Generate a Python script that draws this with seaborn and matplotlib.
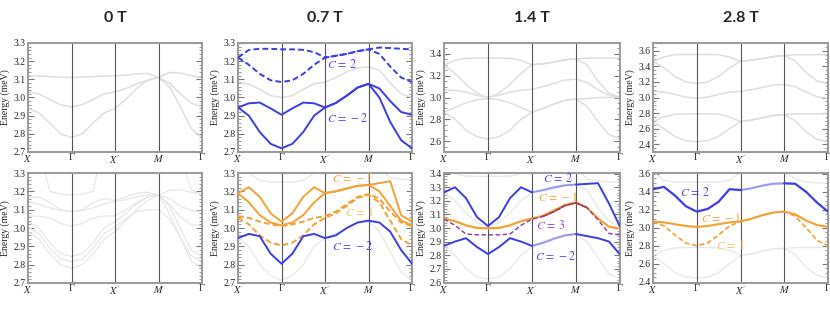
import numpy as np
import pandas as pd
import seaborn as sns
import matplotlib.pyplot as plt

sns.set_theme(style="white")
plt.rcParams["font.family"] = ["Liberation Serif", "DejaVu Serif"]
plt.rcParams["mathtext.fontset"] = "stix"

# k-path coordinate (X - Gamma - X' - M - Gamma), 4 samples per segment
K = [0, 0.25, 0.5, 0.75, 1, 1.25, 1.5, 1.75, 2, 2.25, 2.5, 2.75, 3, 3.25, 3.5, 3.75, 4]
KTICKS = [0, 1, 2, 3, 4]
KLABELS = ["$X$", "Γ", "$X'$", "$M$", "Γ"]
FIELDS = ["0 T", "0.7 T", "1.4 T", "2.8 T"]

# ---- 0 T, top
A1 = [3.12, 3.118, 3.115, 3.112, 3.11, 3.112, 3.115, 3.118, 3.12, 3.123, 3.13, 3.133, 3.11, 3.138, 3.135, 3.12, 3.11]
A2 = [3.03, 3.02, 2.99, 2.96, 2.948, 2.96, 2.99, 3.02, 3.03, 3.05, 3.075, 3.095, 3.11, 3.08, 3.02, 2.97, 2.948]
A3 = [2.94, 2.915, 2.86, 2.80, 2.78, 2.80, 2.86, 2.915, 2.94, 2.99, 3.05, 3.095, 3.11, 3.06, 2.95, 2.83, 2.78]

# ---- 0.7 T, top
B_g = [3.085, 3.075, 3.045, 3.01, 3.0, 3.01, 3.045, 3.075, 3.085, 3.11, 3.14, 3.162, 3.168, 3.15, 3.08, 3.02, 3.0]
B_d1 = [3.22, 3.262, 3.268, 3.268, 3.265, 3.265, 3.262, 3.25, 3.22, 3.23, 3.24, 3.255, 3.265, 3.275, 3.272, 3.268, 3.265]
B_d2 = [3.22, 3.18, 3.13, 3.095, 3.085, 3.095, 3.13, 3.18, 3.22, 3.23, 3.24, 3.255, 3.265, 3.24, 3.17, 3.11, 3.085]
B_s1 = [2.945, 2.968, 2.972, 2.94, 2.905, 2.94, 2.972, 2.968, 2.945, 2.97, 3.01, 3.055, 3.075, 3.05, 2.98, 2.92, 2.905]
B_s2 = [2.945, 2.90, 2.81, 2.745, 2.72, 2.745, 2.81, 2.90, 2.945, 2.97, 3.01, 3.055, 3.075, 3.0, 2.865, 2.765, 2.72]

# ---- 1.4 T, top
C1 = [3.30, 3.34, 3.36, 3.362, 3.362, 3.362, 3.36, 3.34, 3.30, 3.31, 3.325, 3.345, 3.355, 3.36, 3.362, 3.362, 3.362]
C2 = [3.30, 3.22, 3.12, 3.04, 3.0, 3.04, 3.12, 3.22, 3.30, 3.31, 3.325, 3.345, 3.355, 3.30, 3.15, 3.04, 3.0]
C3 = [3.07, 3.065, 3.05, 3.02, 3.0, 3.02, 3.05, 3.065, 3.075, 3.10, 3.13, 3.16, 3.168, 3.14, 3.07, 3.02, 3.0]
C4 = [2.865, 2.91, 2.95, 2.98, 2.99, 2.98, 2.95, 2.91, 2.865, 2.90, 2.94, 2.975, 2.985, 2.99, 3.0, 3.0, 3.0]
C5 = [2.865, 2.80, 2.70, 2.64, 2.62, 2.64, 2.70, 2.80, 2.865, 2.90, 2.94, 2.975, 2.985, 2.92, 2.78, 2.66, 2.62]

# ---- 2.8 T, top
D1 = [3.465, 3.52, 3.55, 3.552, 3.552, 3.552, 3.55, 3.52, 3.465, 3.48, 3.50, 3.525, 3.54, 3.548, 3.55, 3.55, 3.55]
D2 = [3.465, 3.38, 3.27, 3.20, 3.18, 3.20, 3.27, 3.38, 3.465, 3.48, 3.50, 3.525, 3.54, 3.47, 3.32, 3.21, 3.18]
D3 = [3.08, 3.07, 3.04, 3.005, 2.99, 3.005, 3.04, 3.07, 3.08, 3.10, 3.13, 3.16, 3.168, 3.14, 3.07, 3.01, 2.99]
D4 = [2.69, 2.75, 2.785, 2.79, 2.79, 2.79, 2.785, 2.75, 2.69, 2.71, 2.74, 2.77, 2.78, 2.79, 2.79, 2.79, 2.79]
D5 = [2.69, 2.60, 2.50, 2.445, 2.43, 2.445, 2.50, 2.60, 2.69, 2.71, 2.74, 2.77, 2.78, 2.70, 2.56, 2.46, 2.43]

# ---- 0 T, bottom
E1 = [3.6, 3.45, 3.20, 3.185, 3.18, 3.185, 3.20, 3.50, 3.6, 3.6, 3.6, 3.6, 3.6, 3.6, 3.38, 3.21, 3.18]
E2 = [3.165, 3.168, 3.14, 3.10, 3.09, 3.10, 3.14, 3.16, 3.15, 3.17, 3.19, 3.195, 3.18, 3.205, 3.21, 3.195, 3.185]
E3 = [3.145, 3.13, 3.11, 3.095, 3.09, 3.095, 3.11, 3.13, 3.145, 3.155, 3.17, 3.18, 3.18, 3.16, 3.12, 3.095, 3.09]
E4 = [3.065, 3.065, 3.055, 3.025, 3.01, 3.025, 3.055, 3.065, 3.065, 3.10, 3.14, 3.17, 3.18, 3.13, 3.06, 3.02, 3.01]
E5 = [3.035, 3.0, 2.92, 2.86, 2.845, 2.86, 2.92, 3.0, 3.035, 3.08, 3.13, 3.17, 3.18, 3.12, 3.0, 2.88, 2.845]
E6 = [3.005, 2.97, 2.89, 2.83, 2.818, 2.83, 2.89, 2.97, 3.005, 3.05, 3.09, 3.10, 3.10, 3.05, 2.95, 2.85, 2.818]
E7 = [2.98, 2.94, 2.86, 2.80, 2.78, 2.80, 2.86, 2.94, 2.98, 3.04, 3.10, 3.15, 3.18, 3.08, 2.95, 2.82, 2.78]

# ---- 0.7 T, bottom
F_g1 = [2.945, 2.90, 2.80, 2.74, 2.715, 2.74, 2.80, 2.90, 2.945, 2.97, 3.0, 3.03, 3.04, 2.98, 2.87, 2.76, 2.715]
F_g2 = [3.35, 3.30, 3.26, 3.25, 3.25, 3.25, 3.26, 3.30, 3.35, 3.35, 3.35, 3.35, 3.35, 3.32, 3.275, 3.265, 3.265]
F_o1 = [3.19, 3.222, 3.17, 3.08, 3.035, 3.08, 3.17, 3.222, 3.19, 3.20, 3.215, 3.23, 3.235, 3.245, 3.255, 3.07, 3.035]
F_o2 = [3.19, 3.14, 3.07, 3.03, 3.015, 3.03, 3.07, 3.14, 3.19, 3.20, 3.215, 3.23, 3.235, 3.20, 3.12, 3.04, 3.015]
F_d1 = [3.065, 3.055, 3.035, 3.02, 3.01, 3.02, 3.035, 3.055, 3.065, 3.09, 3.13, 3.17, 3.185, 3.16, 3.09, 3.03, 3.01]
F_d2 = [3.055, 3.02, 2.96, 2.92, 2.905, 2.92, 2.96, 3.02, 3.055, 3.08, 3.12, 3.165, 3.18, 3.14, 3.04, 2.94, 2.905]
F_b = [2.945, 2.968, 2.955, 2.86, 2.805, 2.86, 2.955, 2.968, 2.945, 2.96, 3.0, 3.03, 3.04, 3.03, 2.98, 2.88, 2.805]

# ---- 1.4 T, bottom
G_g1 = [2.865, 2.80, 2.70, 2.64, 2.625, 2.64, 2.70, 2.80, 2.865, 2.90, 2.93, 2.95, 2.955, 2.90, 2.78, 2.66, 2.625]
G_g2 = [3.265, 3.20, 3.11, 3.04, 3.01, 3.04, 3.11, 3.20, 3.265, 3.27, 3.29, 3.31, 3.32, 3.28, 3.15, 3.05, 3.01]
G_g3 = [3.45, 3.40, 3.38, 3.38, 3.38, 3.38, 3.38, 3.40, 3.45, 3.45, 3.45, 3.45, 3.45, 3.36, 3.345, 3.34, 3.34]
G_b1 = [3.262, 3.30, 3.22, 3.08, 3.015, 3.08, 3.22, 3.30, 3.262, 3.28, 3.30, 3.315, 3.32, 3.325, 3.33, 3.18, 3.01]
G_b2 = [2.868, 2.90, 2.925, 2.86, 2.808, 2.86, 2.925, 2.90, 2.868, 2.89, 2.92, 2.945, 2.956, 2.94, 2.925, 2.90, 2.805]
G_o = [3.07, 3.05, 3.02, 3.0, 2.998, 3.0, 3.02, 3.05, 3.07, 3.09, 3.13, 3.17, 3.188, 3.15, 3.07, 3.01, 2.995]
G_p = [3.065, 3.02, 2.955, 2.95, 2.95, 2.95, 2.955, 3.02, 3.065, 3.085, 3.12, 3.165, 3.185, 3.15, 3.06, 2.96, 2.95]

# ---- 2.8 T, bottom
H_g1 = [2.69, 2.75, 2.775, 2.78, 2.78, 2.78, 2.775, 2.75, 2.69, 2.71, 2.74, 2.765, 2.77, 2.78, 2.78, 2.78, 2.78]
H_g2 = [2.69, 2.60, 2.50, 2.45, 2.44, 2.45, 2.50, 2.60, 2.69, 2.71, 2.74, 2.765, 2.77, 2.70, 2.56, 2.47, 2.44]
H_g3 = [3.62, 3.53, 3.51, 3.51, 3.51, 3.51, 3.51, 3.53, 3.62, 3.62, 3.62, 3.62, 3.62, 3.55, 3.51, 3.50, 3.50]
H_b = [3.43, 3.455, 3.36, 3.24, 3.18, 3.21, 3.29, 3.43, 3.42, 3.44, 3.47, 3.49, 3.495, 3.49, 3.40, 3.28, 3.18]
H_o1 = [3.07, 3.06, 3.04, 3.02, 3.01, 3.02, 3.04, 3.06, 3.07, 3.10, 3.14, 3.17, 3.18, 3.15, 3.08, 3.03, 3.01]
H_o2 = [3.07, 3.02, 2.92, 2.83, 2.80, 2.83, 2.92, 3.02, 3.07, 3.10, 3.14, 3.17, 3.18, 3.13, 3.0, 2.86, 2.80]

GRAY = "#dedede"
GRAY2 = "#e8e8e8"
BLUE = "#3c3ce8"
ORANGE = "#f5a033"
PURPLE = "#8e4aa6"
DARKRED = "#a8303a"
BLUE_T = "#5a3fe6"
ORANGE_T = "#f2a534"
ORANGE_T2 = "#f4c25e"
PURPLE_T = "#9044cf"
DASH = (0, (3, 1.6))


def band(ax, vals, color, ls="-", lw=1.4, alpha=1.0, lo=0, hi=17, z=3):
    sns.lineplot(x=K[lo:hi], y=vals[lo:hi], ax=ax, color=color, linestyle=ls,
                 linewidth=lw, alpha=alpha, zorder=z, estimator=None, sort=False)


def style(ax, ylim, yticks, minor):
    ax.set_xlim(0, 4)
    ax.set_ylim(*ylim)
    ax.set_xticks(KTICKS)
    ax.set_xticklabels(KLABELS, fontsize=7.5)
    ax.set_yticks(yticks)
    ax.set_yticklabels([f"{t:.1f}" for t in yticks], fontsize=7)
    ax.set_yticks(minor, minor=True)
    ax.tick_params(axis="x", length=0, pad=1)
    ax.tick_params(axis="y", which="major", direction="in", length=4, width=0.8,
                   color="#777777", left=True, right=True, pad=1.5)
    ax.tick_params(axis="y", which="minor", direction="in", length=2, width=0.6,
                   color="#888888", left=True, right=True)
    for s in ax.spines.values():
        s.set_color("#9a9a9a")
        s.set_linewidth(1.4)
    for xv in [1, 2, 3]:
        ax.axvline(xv, color="#555555", lw=0.8, zorder=2)
    ax.set_xlabel("")
    ax.set_ylabel("Energy (meV)", fontsize=7, labelpad=1)
    ax.yaxis.set_label_coords(-0.105, 0.5)


def lab(ax, k, e, txt, color):
    ax.text(k, e, txt, color=color, fontsize=8.5, va="center", ha="left", zorder=6)


fig = plt.figure(figsize=(8.3, 3.2), dpi=100)
lefts = [28, 238, 444, 653]
widths = [174, 174, 176, 175]
axes_top = []
axes_bot = []
for l, w in zip(lefts, widths):
    axes_top.append(fig.add_axes([l / 830, 1 - 152 / 320, w / 830, 109 / 320]))
    axes_bot.append(fig.add_axes([l / 830, 1 - 283 / 320, w / 830, 110 / 320]))

t01 = np.round(np.arange(2.7, 3.31, 0.1), 2)
m01 = np.round(np.arange(2.7, 3.31, 0.02), 3)

# 0 T top
ax = axes_top[0]
for b in [A1, A2, A3]:
    band(ax, b, GRAY, lw=1.1, z=1)
style(ax, (2.7, 3.3), t01, m01)

# 0.7 T top
ax = axes_top[1]
band(ax, B_g, GRAY, lw=1.1, z=1)
band(ax, B_d1, BLUE, ls=DASH)
band(ax, B_d2, BLUE, ls=DASH)
band(ax, B_s1, BLUE)
band(ax, B_s2, BLUE)
style(ax, (2.7, 3.3), t01, m01)
lab(ax, 2.05, 3.18, "$C\\,=\\,2$", BLUE_T)
lab(ax, 2.05, 2.887, "$C\\,=\\,-2$", BLUE_T)

# 1.4 T top
ax = axes_top[2]
for b in [C1, C2, C3, C4, C5]:
    band(ax, b, GRAY, lw=1.1, z=1)
style(ax, (2.5, 3.5), np.round(np.arange(2.6, 3.41, 0.2), 2), np.round(np.arange(2.5, 3.51, 0.05), 3))

# 2.8 T top
ax = axes_top[3]
for b in [D1, D2, D3, D4, D5]:
    band(ax, b, GRAY, lw=1.1, z=1)
style(ax, (2.3, 3.7), np.round(np.arange(2.4, 3.61, 0.2), 2), np.round(np.arange(2.3, 3.71, 0.05), 3))

# 0 T bottom
ax = axes_bot[0]
for b in [E1, E2, E3, E4, E5, E6, E7]:
    band(ax, b, GRAY2, lw=1.0, z=1)
style(ax, (2.7, 3.3), t01, m01)

# 0.7 T bottom
ax = axes_bot[1]
band(ax, F_g1, GRAY2, lw=1.0, z=1)
band(ax, F_g2, GRAY2, lw=1.0, z=1)
band(ax, F_d1, ORANGE, ls=DASH)
band(ax, F_d2, ORANGE, ls=DASH)
band(ax, F_o2, ORANGE)
band(ax, F_o1, ORANGE)
band(ax, F_b, BLUE)
style(ax, (2.7, 3.3), t01, m01)
lab(ax, 2.16, 3.272, "$C\\,=\\,-1$", ORANGE_T)
lab(ax, 2.46, 3.087, "$C\\,=\\,1$", ORANGE_T2)
lab(ax, 2.16, 2.90, "$C\\,=\\,-2$", BLUE_T)

# 1.4 T bottom
ax = axes_bot[2]
for b in [G_g1, G_g2, G_g3]:
    band(ax, b, GRAY2, lw=1.0, z=1)
band(ax, G_o, ORANGE, lw=1.6)
band(ax, G_p, PURPLE, ls=DASH, lw=1.1)
band(ax, G_p, DARKRED, ls=DASH, lw=1.1, lo=9, hi=14)
for b in [G_b1, G_b2]:
    band(ax, b, BLUE, hi=9)
    band(ax, b, BLUE, alpha=0.5, lo=8, hi=13)
    band(ax, b, BLUE, lo=12)
style(ax, (2.595, 3.405), np.round(np.arange(2.6, 3.41, 0.1), 2), np.round(np.arange(2.6, 3.41, 0.02), 3))
lab(ax, 2.24, 3.364, "$C\\,=\\,2$", BLUE_T)
lab(ax, 2.13, 3.225, "$C\\,=\\,-1$", ORANGE_T)
lab(ax, 2.08, 3.015, "$C\\,=\\,3$", PURPLE_T)
lab(ax, 2.06, 2.79, "$C\\,=\\,-2$", BLUE_T)

# 2.8 T bottom
ax = axes_bot[3]
for b in [H_g1, H_g2, H_g3]:
    band(ax, b, GRAY2, lw=1.0, z=1)
band(ax, H_o2, ORANGE, ls=DASH, lw=1.2)
band(ax, H_o1, ORANGE, lw=1.5)
band(ax, H_b, BLUE, lw=1.6, hi=9)
band(ax, H_b, BLUE, lw=1.6, alpha=0.5, lo=8, hi=13)
band(ax, H_b, BLUE, lw=1.6, lo=12)
style(ax, (2.385, 3.61), np.round(np.arange(2.4, 3.61, 0.2), 2), np.round(np.arange(2.4, 3.61, 0.05), 3))
lab(ax, 0.62, 3.393, "$C\\,=\\,2$", BLUE_T)
lab(ax, 1.10, 3.098, "$C\\,=\\,-1$", ORANGE_T)
lab(ax, 1.44, 2.80, "$C\\,=\\,1$", ORANGE_T2)

for l, w, f in zip(lefts, widths, FIELDS):
    fig.text((l + w / 2) / 830, 1 - 18.5 / 320, f, ha="center", va="center",
             fontsize=11.5, fontweight="bold", family=["Lato", "DejaVu Sans"])

fig.savefig("out.png", dpi=100)
